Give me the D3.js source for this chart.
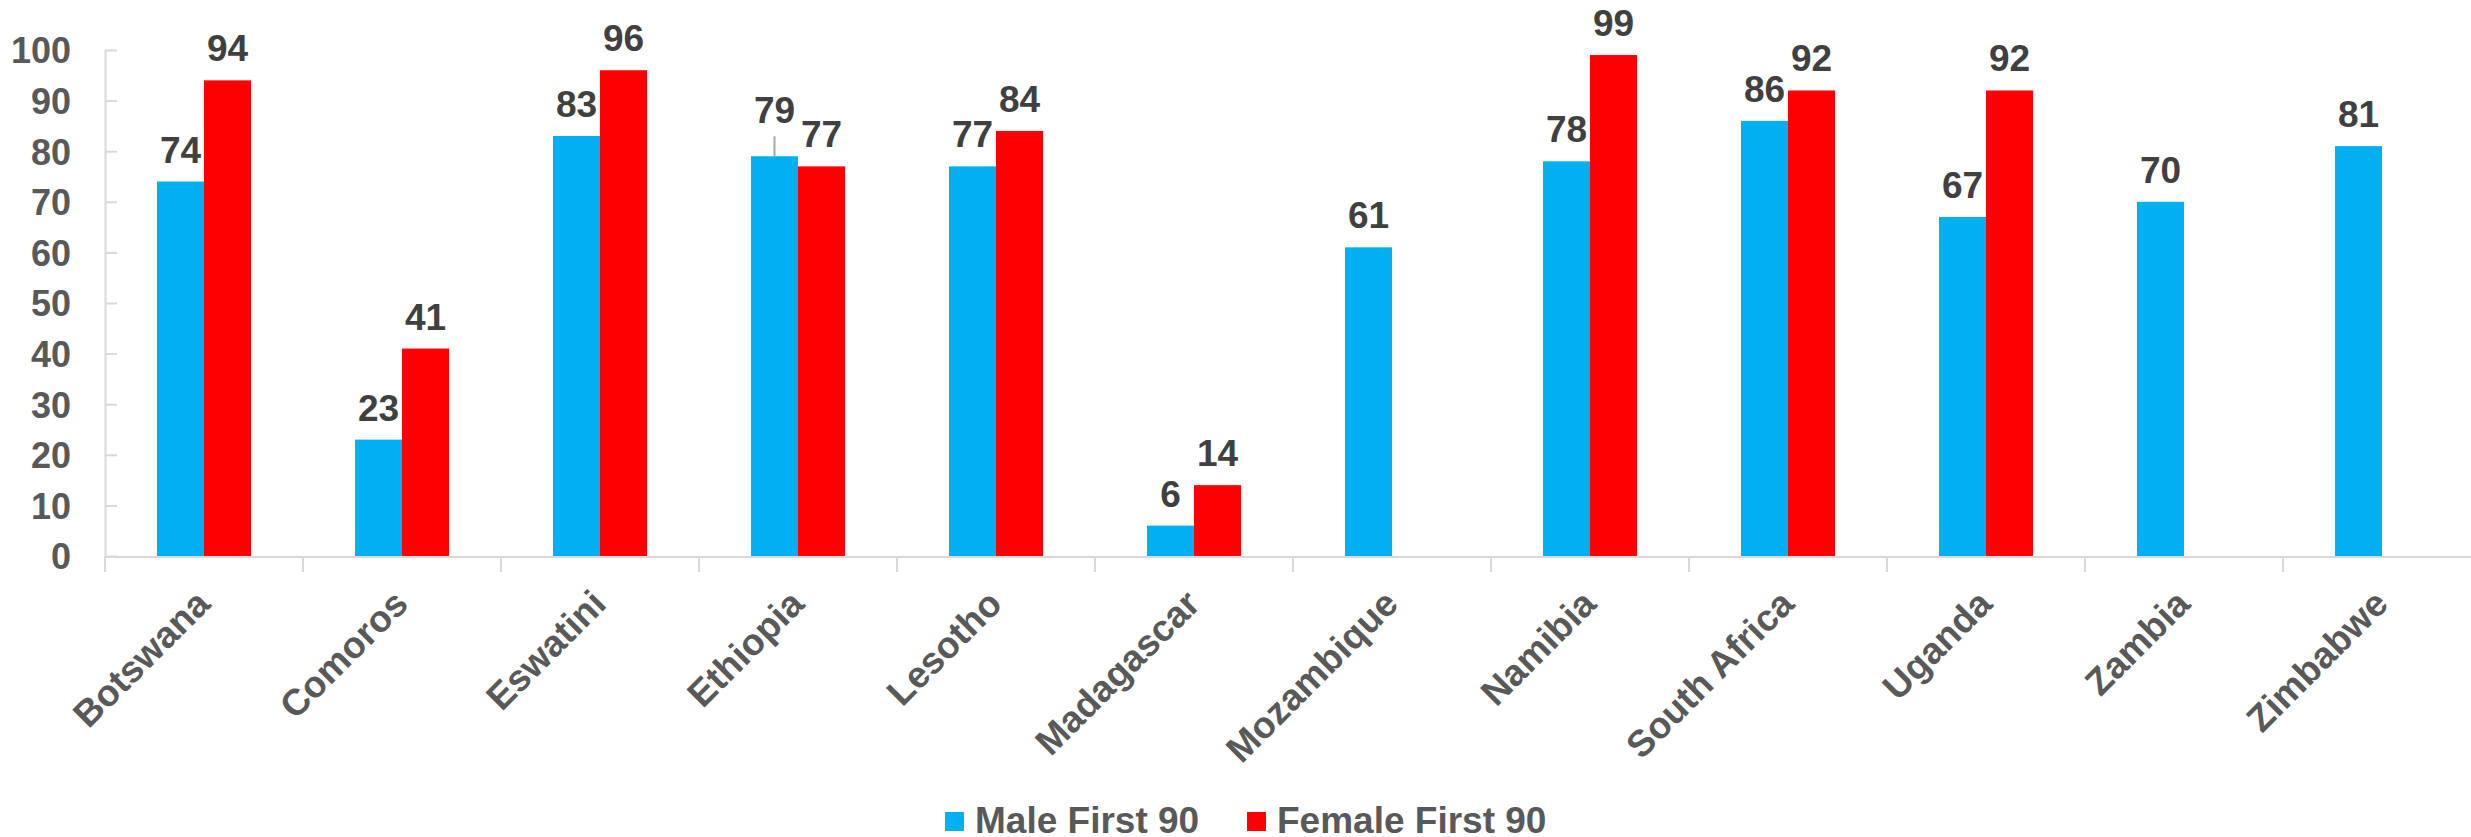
<!DOCTYPE html>
<html><head><meta charset="utf-8">
<script src="https://cdn.jsdelivr.net/npm/d3@7"></script>
<style>
html,body{margin:0;padding:0;background:#fff;overflow:hidden;}
svg{display:block;}
text{font-family:"Liberation Sans",Arial,sans-serif;font-weight:bold;}
</style></head>
<body>
<script>
const categories = ["Botswana","Comoros","Eswatini","Ethiopia","Lesotho","Madagascar","Mozambique","Namibia","South Africa","Uganda","Zambia","Zimbabwe"];
const maleFirst90 = [74,23,83,79,77,6,61,78,86,67,70,81];
const femaleFirst90 = [94,41,96,77,84,14,null,99,92,92,null,null];
const seriesNames = ["Male First 90","Female First 90"];
const seriesColors = ["#00B0F0","#FF0000"];
const yTicks = [0,10,20,30,40,50,60,70,80,90,100];

const W = 2471, H = 837;
const svg = d3.select("body").append("svg").attr("width", W).attr("height", H);

const x0 = 105, bandW = 198, yBase = 556, yTop = 50;
const x = d3.scaleBand().domain(categories).range([x0, x0 + bandW*categories.length]).paddingInner(0).paddingOuter(0);
const y = d3.scaleLinear().domain([0,100]).range([yBase, yTop]);
const groupW = x.bandwidth()*0.475;
const xs = d3.scaleBand().domain([0,1]).range([0, groupW]);

// y axis
const yAxis = svg.append("g").attr("transform", `translate(${x0},0)`)
  .call(d3.axisLeft(y).tickValues(yTicks).tickSizeInner(-12).tickSizeOuter(0).tickPadding(34).tickFormat(d3.format("d")));
yAxis.select(".domain").attr("stroke","#d9d9d9").attr("stroke-width",2);
yAxis.selectAll(".tick line").attr("stroke","#d9d9d9").attr("stroke-width",2);
yAxis.selectAll(".tick text").attr("fill","#595959").attr("font-size",36).attr("font-family","Liberation Sans, Arial, sans-serif").attr("font-weight","bold").attr("dy","0.36em");

// x axis line and ticks
svg.append("line").attr("x1", x0).attr("x2", W).attr("y1", yBase+1).attr("y2", yBase+1).attr("stroke","#d9d9d9").attr("stroke-width",2);
const bounds = categories.map(c => x(c)).concat([x(categories[categories.length-1]) + x.bandwidth()]);
svg.selectAll(".xtick").data(bounds).enter().append("line")
  .attr("x1", d=>d).attr("x2", d=>d).attr("y1", yBase).attr("y2", yBase+16)
  .attr("stroke","#d9d9d9").attr("stroke-width",2);

// x labels
svg.selectAll(".xlab").data(categories).enter().append("text")
  .attr("transform", c => `translate(${x(c)+x.bandwidth()/2+8},${yBase+50}) rotate(-45)`)
  .attr("text-anchor","end").attr("fill","#595959").attr("font-size",37).text(c=>c);

// bars
const series = [maleFirst90, femaleFirst90];
const labelNudge = {"0-3": -14};
series.forEach((vals, si) => {
  const g = svg.append("g");
  const data = categories.map((c,i)=>({c, i, v: vals[i]})).filter(d => d.v !== null);
  const cx = d => x(d.c) + (x.bandwidth()-groupW)/2 + xs(si) + xs.bandwidth()/2;
  g.selectAll("rect").data(data).enter().append("rect")
    .attr("x", d => x(d.c) + (x.bandwidth()-groupW)/2 + xs(si))
    .attr("width", xs.bandwidth())
    .attr("y", d => y(d.v))
    .attr("height", d => yBase - y(d.v))
    .attr("fill", seriesColors[si]);
  g.selectAll("text").data(data).enter().append("text")
    .attr("x", cx)
    .attr("y", d => y(d.v) - 19 + (labelNudge[si+"-"+d.i]||0))
    .attr("text-anchor","middle").attr("fill","#404040").attr("font-size",37)
    .text(d => d3.format("d")(d.v));
  g.selectAll("line").data(data.filter(d => labelNudge[si+"-"+d.i])).enter().append("line")
    .attr("x1", cx).attr("x2", cx)
    .attr("y1", d => y(d.v)).attr("y2", d => y(d.v) - 20)
    .attr("stroke","#a6a6a6").attr("stroke-width",2);
});

// legend
const leg = svg.append("g");
const legX = [945, 1247];
seriesNames.forEach((n, i) => {
  leg.append("rect").attr("x", legX[i]).attr("y", 812).attr("width", 19).attr("height", 19).attr("fill", seriesColors[i]);
  leg.append("text").attr("x", legX[i]+30).attr("y", 833).attr("fill","#595959").attr("font-size",37).text(n);
});
</script>
</body></html>
